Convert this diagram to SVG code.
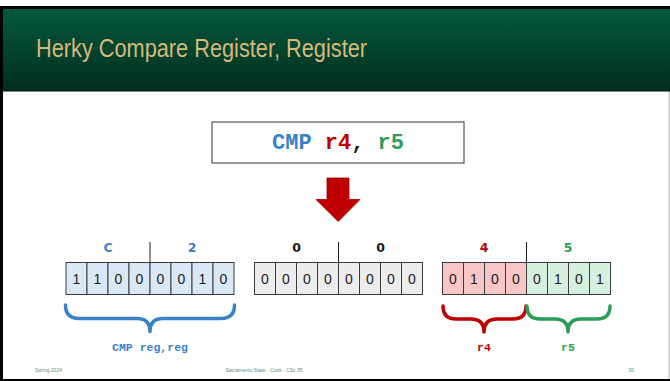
<svg xmlns="http://www.w3.org/2000/svg" width="670" height="381" viewBox="0 0 670 381">
  <defs>
    <linearGradient id="hdr" x1="0" y1="0" x2="0" y2="1">
      <stop offset="0" stop-color="#04593c"/>
      <stop offset="1" stop-color="#022e1f"/>
    </linearGradient>
    <style>
      .cell { stroke: #3a3a3a; stroke-width: 1; }
      .blue { fill: #dae8f5; }
      .gray { fill: #ececec; }
      .pink { fill: #f8c6c6; }
      .mint { fill: #d6f0df; }
      .bit { font-family: "Liberation Sans", Arial, sans-serif; font-size: 14px; fill: #1a1a1a; text-anchor: middle; }
      .hex { font-family: "DejaVu Sans", "Liberation Sans", sans-serif; font-weight: bold; font-size: 12.5px; text-anchor: middle; }
      .div { stroke: #1a1a1a; stroke-width: 1; }
      .brace { fill: none; stroke-width: 3.5; stroke-linecap: round; stroke-linejoin: round; }
      .code { font-family: "Liberation Mono", "Courier New", monospace; font-weight: bold; }
      .foot { font-family: "Liberation Sans", Arial, sans-serif; font-size: 5px; fill: #5a9478; }
    </style>
  </defs>

  <!-- slide frame -->
  <rect x="0" y="0" width="670" height="381" fill="#ffffff"/>
  <rect x="0" y="6" width="670" height="3" fill="#000000"/>
  <rect x="0" y="6" width="3" height="375" fill="#000000"/>
  <rect x="0" y="379" width="670" height="2" fill="#000000"/>
  <rect x="668.5" y="91" width="1.5" height="288" fill="#c8c8c8"/>

  <!-- title bar -->
  <g id="title">
    <rect x="3" y="9" width="667" height="82" fill="url(#hdr)"/>
    <rect x="3" y="90.5" width="667" height="1" fill="#011a11"/>
    <text x="36" y="57" font-family="Liberation Sans, Arial, sans-serif" font-size="26" fill="#d7b97c" textLength="331" lengthAdjust="spacingAndGlyphs">Herky Compare Register, Register</text>
  </g>

  <!-- instruction -->
  <g id="instruction">
    <rect x="212" y="122" width="252" height="41" fill="#ffffff" stroke="#555555" stroke-width="1.2"/>
    <text x="338" y="149" class="code" font-size="22" text-anchor="middle"><tspan fill="#3a82c6">CMP</tspan> <tspan fill="#c00000">r4</tspan><tspan fill="#1a1a1a">,</tspan> <tspan fill="#2e9c5a">r5</tspan></text>
  </g>

  <!-- down arrow -->
  <g id="arrow">
    <polygon points="327,178 349,178 349,199.5 360,199.5 338.2,221.5 316,199.5 327,199.5" fill="#c00000" stroke="#a00000" stroke-width="0.8"/>
  </g>

  <!-- machine code byte -->
  <g id="byte-opcode">
    <rect class="cell blue" x="66" y="262.5" width="21" height="32"/>
    <rect class="cell blue" x="87" y="262.5" width="21" height="32"/>
    <rect class="cell blue" x="108" y="262.5" width="21" height="32"/>
    <rect class="cell blue" x="129" y="262.5" width="21" height="32"/>
    <rect class="cell blue" x="150" y="262.5" width="21" height="32"/>
    <rect class="cell blue" x="171" y="262.5" width="21" height="32"/>
    <rect class="cell blue" x="192" y="262.5" width="21" height="32"/>
    <rect class="cell blue" x="213" y="262.5" width="21" height="32"/>
    <text class="bit" x="76.5" y="284">1</text>
    <text class="bit" x="97.5" y="284">1</text>
    <text class="bit" x="118.5" y="284">0</text>
    <text class="bit" x="139.5" y="284">0</text>
    <text class="bit" x="160.5" y="284">0</text>
    <text class="bit" x="181.5" y="284">0</text>
    <text class="bit" x="202.5" y="284">1</text>
    <text class="bit" x="223.5" y="284">0</text>
    <line class="div" x1="150" y1="242" x2="150" y2="262.5"/>
    <text class="hex" x="108" y="252" fill="#3a82c6">C</text>
    <text class="hex" x="192" y="252" fill="#3a82c6">2</text>
  </g>

  <g id="byte-zero">
    <rect class="cell gray" x="254.5" y="262.5" width="21" height="32"/>
    <rect class="cell gray" x="275.5" y="262.5" width="21" height="32"/>
    <rect class="cell gray" x="296.5" y="262.5" width="21" height="32"/>
    <rect class="cell gray" x="317.5" y="262.5" width="21" height="32"/>
    <rect class="cell gray" x="338.5" y="262.5" width="21" height="32"/>
    <rect class="cell gray" x="359.5" y="262.5" width="21" height="32"/>
    <rect class="cell gray" x="380.5" y="262.5" width="21" height="32"/>
    <rect class="cell gray" x="401.5" y="262.5" width="21" height="32"/>
    <text class="bit" x="265" y="284">0</text>
    <text class="bit" x="286" y="284">0</text>
    <text class="bit" x="307" y="284">0</text>
    <text class="bit" x="328" y="284">0</text>
    <text class="bit" x="349" y="284">0</text>
    <text class="bit" x="370" y="284">0</text>
    <text class="bit" x="391" y="284">0</text>
    <text class="bit" x="412" y="284">0</text>
    <line class="div" x1="338.5" y1="242" x2="338.5" y2="262.5"/>
    <text class="hex" x="296.5" y="252" fill="#1a1a1a">0</text>
    <text class="hex" x="380.5" y="252" fill="#1a1a1a">0</text>
  </g>

  <g id="byte-regs">
    <rect class="cell pink" x="442.5" y="262.5" width="21" height="32"/>
    <rect class="cell pink" x="463.5" y="262.5" width="21" height="32"/>
    <rect class="cell pink" x="484.5" y="262.5" width="21" height="32"/>
    <rect class="cell pink" x="505.5" y="262.5" width="21" height="32"/>
    <rect class="cell mint" x="526.5" y="262.5" width="21" height="32"/>
    <rect class="cell mint" x="547.5" y="262.5" width="21" height="32"/>
    <rect class="cell mint" x="568.5" y="262.5" width="21" height="32"/>
    <rect class="cell mint" x="589.5" y="262.5" width="21" height="32"/>
    <text class="bit" x="453" y="284">0</text>
    <text class="bit" x="474" y="284">1</text>
    <text class="bit" x="495" y="284">0</text>
    <text class="bit" x="516" y="284">0</text>
    <text class="bit" x="537" y="284">0</text>
    <text class="bit" x="558" y="284">1</text>
    <text class="bit" x="579" y="284">0</text>
    <text class="bit" x="600" y="284">1</text>
    <line class="div" x1="526.5" y1="242" x2="526.5" y2="262.5"/>
    <text class="hex" x="484" y="252" fill="#c00000">4</text>
    <text class="hex" x="568" y="252" fill="#2e9c5a">5</text>
  </g>

  <!-- field braces -->
  <g id="braces">
    <path class="brace" stroke="#3a82c6" d="M65.5,305 Q65.5,318.5 79,318.5 L137,318.5 Q150,318.5 150,331.5 Q150,318.5 163,318.5 L221,318.5 Q234.5,318.5 234.5,305"/>
    <path class="brace" stroke="#c00000" d="M443,306 Q443,319 456,319 L471,319 Q484,319 484,332 Q484,319 497,319 L513,319 Q526,319 526,306"/>
    <path class="brace" stroke="#2e9c5a" d="M527,306 Q527,319 540,319 L555,319 Q568,319 568,332 Q568,319 581,319 L597,319 Q610,319 610,306"/>
  </g>

  <g id="labels">
    <text class="code" x="150" y="351" font-size="11.5" fill="#3a82c6" text-anchor="middle">CMP reg,reg</text>
    <text class="code" x="484" y="351" font-size="11.5" fill="#c00000" text-anchor="middle">r4</text>
    <text class="code" x="568" y="351" font-size="11.5" fill="#2e9c5a" text-anchor="middle">r5</text>
  </g>

  <!-- footer -->
  <g id="footer">
    <text class="foot" x="35" y="372">Spring 2024</text>
    <text class="foot" x="264" y="372" text-anchor="middle">Sacramento State - Cook - CSc 35</text>
    <text class="foot" x="631" y="372" text-anchor="middle">30</text>
  </g>
</svg>
